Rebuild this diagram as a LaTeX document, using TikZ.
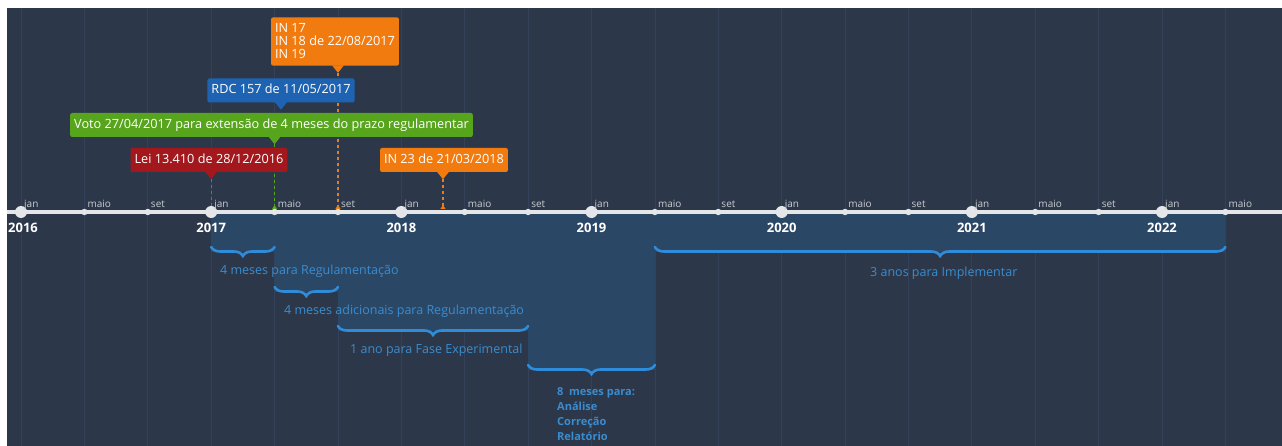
\documentclass[tikz,border=0pt]{standalone}
\usepackage{fontspec}
\setmainfont{Open Sans}
\usetikzlibrary{calc,decorations.pathreplacing,arrows.meta}

\definecolor{fundo}{HTML}{2C384A}
\definecolor{faixa}{HTML}{2B4766}
\definecolor{grade}{HTML}{33415A}
\definecolor{eixo}{HTML}{E4E6EA}
\definecolor{vermelho}{HTML}{A2181C}
\definecolor{verde}{HTML}{57A51D}
\definecolor{azul}{HTML}{1E63B2}
\definecolor{laranja}{HTML}{F27B10}
\definecolor{chaveazul}{HTML}{2E8CDB}
\definecolor{textoazul}{HTML}{3A8CCF}

\pgfdeclarelayer{base}
\pgfdeclarelayer{linhas}
\pgfsetlayers{base,linhas,main}

\begin{document}
\begin{tikzpicture}[x=1pt, y=-1pt,
    flag/.style = {fill=#1, text=white, rounded corners=2pt, inner xsep=4pt,
                   inner ysep=6pt, text height=9.5pt, text depth=2.5pt,
                   font=\fontsize{12.7}{13}\selectfont},
    evento/.style = {draw=#1, line width=1.2pt, dash pattern=on 3pt off 3pt,
                     shorten >=3pt, -{Triangle[reversed, length=4pt, width=5pt]}},
    chave/.style = {draw=chaveazul, line width=2.6pt, line cap=round,
                    decorate, decoration={brace, mirror, amplitude=9pt}},
    periodo/.style = {text=textoazul, anchor=west, inner sep=0pt,
                      font=\fontsize{12.5}{15}\selectfont},
    mes/.style = {text=eixo!85!fundo, anchor=base west, inner sep=0pt,
                  font=\fontsize{10}{10}\selectfont},
    ano/.style = {text=white, font=\bfseries\fontsize{13}{14}\selectfont}]

  \useasboundingbox (0,0) rectangle (1282,446);

  % marcas do eixo
  \foreach \i in {0,...,19} {
    \pgfmathsetmacro\xx{21+\i*63.39}
    \coordinate (t\i) at (\xx,212);
  }
  \coordinate (rdc) at (281,212);
  \coordinate (in23) at (443,212);

  \begin{pgfonlayer}{base}
    \fill[white] (0,0) rectangle (1282,446);
    \fill[fundo] (7,8) rectangle (1282,446);
    \foreach \i in {0,...,19} {
      \draw[grade, line width=0.8pt] (t\i |- 0,8) -- (t\i |- 0,446);
    }
    % faixas dos prazos
    \fill[faixa] (t3) rectangle ($(t4)+(0,40)$);
    \fill[faixa] (t4) rectangle ($(t5)+(0,80)$);
    \fill[faixa] (t5) rectangle ($(t8)+(0,119)$);
    \fill[faixa] (t8) rectangle ($(t10)+(0,158)$);
    \fill[faixa] (t10) rectangle ($(t19)+(0,40)$);
  \end{pgfonlayer}

  % bandeiras
  \node[flag=laranja, align=left, text height=, text depth=, inner ysep=6.5pt] (in17) at (335,41.5)
    {IN 17\\IN 18 de 22/08/2017\\IN 19};
  \node[flag=azul] (rdcflag) at (281,90.5) {RDC 157 de 11/05/2017};
  \node[flag=verde] (voto) at (271.5,125) {Voto 27/04/2017 para extensão de 4 meses do prazo regulamentar};
  \node[flag=vermelho] (lei) at (209,160) {Lei 13.410 de 28/12/2016};
  \node[flag=laranja] (in23flag) at (444,160) {IN 23 de 21/03/2018};

  % pontas das bandeiras
  \foreach \f/\t/\c in {in17/t5/laranja, rdcflag/rdc/azul, voto/t4/verde,
                        lei/t3/vermelho, in23flag/in23/laranja} {
    \coordinate (\f ponta) at ($(\f.south -| \t)+(0,7)$);
    \fill[\c] ($(\f.south -| \t)+(-6,-0.5)$) -- (\f ponta) -- ($(\f.south -| \t)+(6,-0.5)$) -- cycle;
  }

  % linhas tracejadas
  \begin{pgfonlayer}{linhas}
    \draw[evento=laranja] (in17ponta) -- (t5);
    \draw[evento=verde] (votoponta) -- (t4);
    \draw[evento=vermelho!75!white] (leiponta) -- (t3);
    \draw[evento=laranja] (in23flagponta) -- (in23);
  \end{pgfonlayer}

  % eixo
  \draw[eixo, line width=4pt] (7,212) -- (1282,212);
  \foreach \i in {0,...,19} {
    \pgfmathtruncatemacro\k{mod(\i,3)}
    \ifnum\k=0
      \fill[eixo] (t\i) circle (6);
    \else
      \fill[eixo] (t\i) circle (3.2);
    \fi
    \node[mes] at ($(t\i)+(3,-4.5)$) {\ifcase\k jan\or maio\or set\fi};
  }
  \foreach \a [count=\j from 0] in {2016,...,2022} {
    \pgfmathtruncatemacro\jj{3*\j}
    \ifnum\j=0
      \node[ano] at ($(t\jj)+(2,15.5)$) {\a};
    \else
      \node[ano] at ($(t\jj)+(0,15.5)$) {\a};
    \fi
  }

  % chaves e prazos
  \draw[chave] ($(t3)+(0,35)$) -- ($(t4)+(0,35)$);
  \draw[chave] ($(t4)+(0,75)$) -- ($(t5)+(0,75)$);
  \draw[chave] ($(t5)+(0,114)$) -- ($(t8)+(0,114)$);
  \draw[chave] ($(t8)+(0,153)$) -- ($(t10)+(0,153)$);
  \draw[chave] ($(t10)+(0,35)$) -- ($(t19)+(0,35)$);

  \node[periodo] (p1) at (220,271) {4 meses para Regulamentação};
  \node[periodo] (p2) at (284,311) {4 meses adicionais para Regulamentação};
  \node[periodo] (p3) at (350,350) {1 ano para Fase Experimental};
  \node[periodo, align=left, anchor=north west, font=\bfseries\fontsize{11}{15}\selectfont]
    (p4) at (557,387) {8\ \ meses para:\\Análise\\Correção\\Relatório};
  \node[periodo] (p5) at (870,273) {3 anos para Implementar};
\end{tikzpicture}
\end{document}
